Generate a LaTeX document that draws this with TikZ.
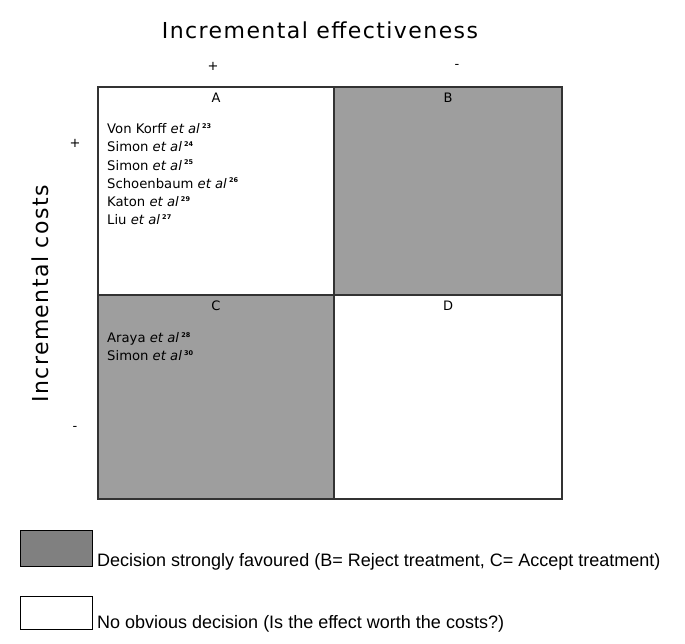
\documentclass[tikz,border=0pt]{standalone}
\usepackage{fontspec}
\setmainfont{Liberation Sans}
\newfontfamily\dv{DejaVu Sans}
\newfontfamily\dvsp{DejaVu Sans}[LetterSpace=6.5]
\newcommand{\supnum}[1]{\,\raisebox{0.75ex}{\fontsize{6.5}{7}\selectfont\bfseries #1}}
\begin{document}
\begin{tikzpicture}[x=1pt,y=-1pt,
  cell/.style={draw=black!80,line width=1.2pt},
  grayfill/.style={fill=black!38},
  lbl/.style={font=\dv\fontsize{13}{15}\selectfont,inner sep=0pt},
  ref/.style={font=\dv\fontsize{13.2}{18.3}\selectfont,inner sep=0pt,align=left,anchor=north west},
  axis/.style={font=\dvsp\fontsize{22}{26}\selectfont,inner sep=0pt},
  legtxt/.style={font=\fontsize{18}{21}\selectfont,inner sep=0pt,anchor=base west}]
\useasboundingbox (0,0) rectangle (685,643);
\fill[white] (0,0) rectangle (685,643);
% cells
\path[cell,fill=white] (98,87) rectangle (334,295);
\path[cell,grayfill] (334,87) rectangle (562,295);
\path[cell,grayfill] (98,295) rectangle (334,499);
\path[cell,fill=white] (334,295) rectangle (562,499);
\node[lbl] (A) at (216,98) {A};
\node[lbl] (B) at (448,98) {B};
\node[lbl] (C) at (216,306) {C};
\node[lbl] (D) at (448,306) {D};
\node[ref] (refA) at (107,123) {Von Korff \textit{et al}\supnum{23}\\Simon \textit{et al}\supnum{24}\\Simon \textit{et al}\supnum{25}\\Schoenbaum \textit{et al}\supnum{26}\\Katon \textit{et al}\supnum{29}\\Liu \textit{et al}\supnum{27}};
\node[ref] (refC) at (107,332) {Araya \textit{et al}\supnum{28}\\Simon \textit{et al}\supnum{30}};
% axes
\node[axis] (xt) at (320,30) {Incremental effectiveness};
\node[lbl] (xp) at (213,66) {+};
\node[lbl] (xm) at (457,66) {-};
\node[axis,rotate=90] (yt) at (40,294) {Incremental costs};
\node[lbl] (yp) at (75,143) {+};
\node[lbl] (ym) at (75,428) {-};
% legend
\path[draw=black,line width=1pt,fill=black!50] (20,530) rectangle (92,566);
\path[draw=black,line width=1pt,fill=white] (20,596) rectangle (92,629);
\node[legtxt] (l1) at (97,566) {Decision strongly favoured (B= Reject treatment, C= Accept treatment)};
\node[legtxt] (l2) at (97,628) {No obvious decision (Is the effect worth the costs?)};
\end{tikzpicture}
\end{document}
